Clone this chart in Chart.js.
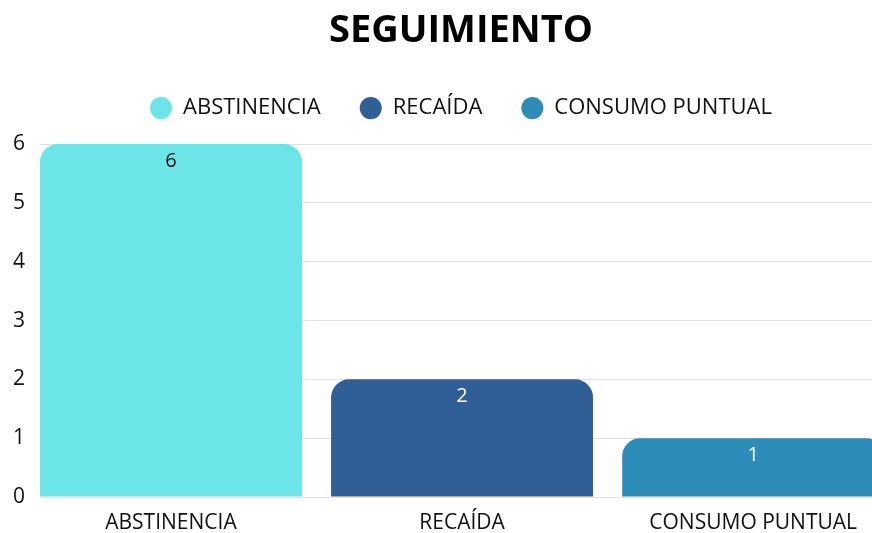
<!DOCTYPE html>
<html lang="es">
<head>
    <meta charset="UTF-8">
    <title>Seguimiento</title>
    <script src="https://cdn.jsdelivr.net/npm/chart.js"></script>
    <style>
        html, body { margin: 0; padding: 0; background: #fff; overflow: hidden; }
        #wrap { width: 922px; height: 533px; }
    </style>
</head>
<body>
    <div id="wrap">
        <canvas id="seguimientoChart" width="922" height="533"></canvas>
    </div>

    <script>
        // Datos
        const categories = ['ABSTINENCIA', 'RECAÍDA', 'CONSUMO PUNTUAL'];
        const values = [6, 2, 1];
        const yTicks = [0, 1, 2, 3, 4, 5, 6];

        // Estilos
        const barColors = ['#6be5e8', '#305e96', '#2e8cb8'];
        const valueColors = ['#111111', '#ffffff', '#ffffff'];
        const FONT = "'Open Sans', 'Noto Sans', sans-serif";

        // etiquetas de valor dentro de cada barra
        const valueLabels = {
            id: 'valueLabels',
            afterDatasetsDraw(chart) {
                const ctx = chart.ctx;
                ctx.save();
                ctx.font = '20px ' + FONT;
                ctx.textAlign = 'center';
                ctx.textBaseline = 'middle';
                chart.data.datasets.forEach((ds, i) => {
                    const el = chart.getDatasetMeta(i).data[0];
                    if (!el) return;
                    ctx.fillStyle = valueColors[i];
                    ctx.fillText(String(values[i]), el.x, el.y + 17);
                });
                ctx.restore();
            }
        };

        // espacio extra bajo la leyenda
        const legendSpace = {
            id: 'legendSpace',
            beforeInit(chart) {
                const fit = chart.legend.fit;
                chart.legend.fit = function () {
                    fit.bind(chart.legend)();
                    this.height += 15;
                };
            }
        };

        const datasets = categories.map((name, i) => ({
            label: name,
            data: [{ x: i, y: values[i] }],
            backgroundColor: barColors[i],
            borderWidth: 0,
            borderRadius: 18,
            borderSkipped: 'bottom',
            grouped: false,
            categoryPercentage: 1,
            barPercentage: 0.9
        }));

        new Chart(document.getElementById('seguimientoChart').getContext('2d'), {
            type: 'bar',
            data: { datasets },
            options: {
                responsive: false,
                animation: false,
                layout: { padding: 0 },
                plugins: {
                    title: {
                        display: true,
                        text: 'SEGUIMIENTO',
                        color: '#000',
                        font: { family: FONT, size: 38, weight: 'bold' },
                        padding: { top: 8.5, bottom: 4 }
                    },
                    legend: {
                        display: true,
                        position: 'top',
                        labels: {
                            usePointStyle: true,
                            pointStyle: 'circle',
                            boxHeight: 15.6,
                            color: '#111',
                            padding: 39,
                            font: { family: FONT, size: 22 }
                        }
                    },
                    tooltip: { enabled: false }
                },
                scales: {
                    x: {
                        type: 'linear',
                        offset: false,
                        min: -0.45,
                        max: 2.58,
                        afterBuildTicks: (scale) => {
                            scale.ticks = categories.map((c, i) => ({ value: i }));
                        },
                        afterFit: (scale) => { scale.height = 36; },
                        grid: { display: false, drawTicks: false },
                        border: { display: false },
                        ticks: {
                            padding: 13,
                            maxRotation: 0,
                            autoSkip: false,
                            color: '#111',
                            font: { family: FONT, size: 21 },
                            callback: (v) => categories[v] ?? ''
                        }
                    },
                    y: {
                        min: yTicks[0],
                        max: yTicks[yTicks.length - 1],
                        afterFit: (scale) => { scale.width = 40; },
                        grid: { color: '#e2e2e2', drawTicks: false },
                        border: { display: false },
                        ticks: {
                            stepSize: 1,
                            padding: 15,
                            color: '#111',
                            font: { family: FONT, size: 21 }
                        }
                    }
                }
            },
            plugins: [valueLabels, legendSpace]
        });
    </script>
</body>
</html>
